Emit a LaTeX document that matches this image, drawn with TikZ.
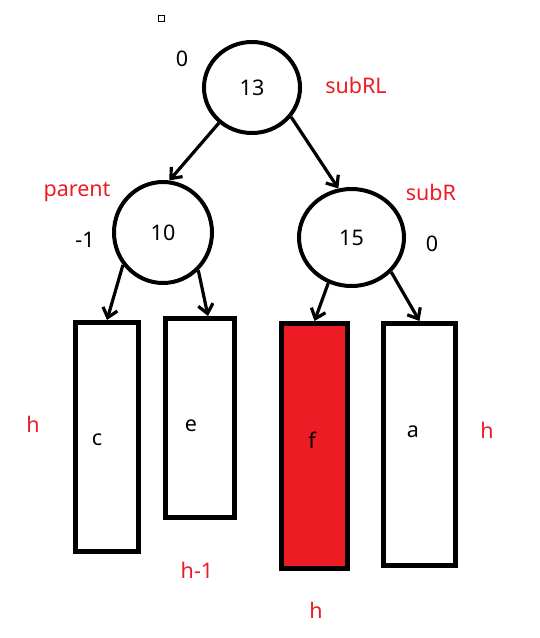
\documentclass[tikz,border=0pt]{standalone}
\usepackage{fontspec}
\setmainfont{Noto Sans}
\usetikzlibrary{arrows.meta,shapes.geometric}
\definecolor{paintred}{HTML}{ED1C24}

\begin{document}
\begin{tikzpicture}[x=1pt,y=-1pt,>={Straight Barb[length=9pt,width=15pt]},
    treenode/.style={draw,ellipse,line width=4pt,inner sep=0pt,font=\fontsize{21.5}{24}\selectfont},
    subtree/.style={draw,rectangle,line width=5pt,inner sep=0pt},
    bf/.style={font=\fontsize{21.5}{24}\selectfont},
    note/.style={text=paintred,font=\fontsize{21.5}{24}\selectfont},
    edge/.style={->,line width=3.2pt}]
  \useasboundingbox (0,0) rectangle (539,638);
  % --- stray mark in the corner ---
  \node[draw,line width=0.8pt,minimum size=6pt,inner sep=0pt] (mark) at (161.5,18.5) {};
  % --- the three tree nodes ---
  \node[treenode,minimum width=96pt,minimum height=91pt] (subRL) at (252,87.5) {13};
  \node[treenode,minimum width=98pt,minimum height=101pt] (parent) at (163,232.5) {10};
  \node[treenode,minimum width=105pt,minimum height=97pt] (subR) at (351.5,237.5) {15};
  % balance factors and names
  \node[bf] (bfRL) at (182,59) {0};
  \node[bf] (bfP) at (85,240) {-1};
  \node[bf] (bfR) at (432,244) {0};
  \node[note] (nRL) at (356,85) {subRL};
  \node[note] (nP) at (77,192) {parent};
  \node[note] (nR) at (431,192) {subR};
  % --- subtrees as bars (height = bar length) ---
  \node[subtree,minimum width=63pt,minimum height=229pt] (c) at (107,437) {};
  \node[subtree,minimum width=69pt,minimum height=199pt] (e) at (200,418) {};
  \node[subtree,fill=paintred,minimum width=66pt,minimum height=245pt] (f) at (314.5,446) {};
  \node[subtree,minimum width=72pt,minimum height=242pt] (a) at (419.5,444.5) {};
  \node[bf] (cl) at (97,440) {c};
  \node[bf] (el) at (191,426) {e};
  \node[bf] (fl) at (312,440) {f};
  \node[bf] (al) at (413,432) {a};
  \node[note] (hc) at (33,424) {h};
  \node[note] (he) at (197,570) {h-1};
  \node[note] (hf) at (316,610) {h};
  \node[note] (ha) at (487,430) {h};
  % --- links ---
  \draw[edge] (subRL.227) -- (parent.83);
  \draw[edge] (subRL.323) -- (subR.105);
  \draw[edge] (parent.219) -- (c.north);
  \draw[edge] (parent.313) -- ([xshift=8pt]e.north);
  \draw[edge] (subR.243) -- (f.north);
  \draw[edge] (subR.319) -- (a.north);
\end{tikzpicture}
\end{document}
